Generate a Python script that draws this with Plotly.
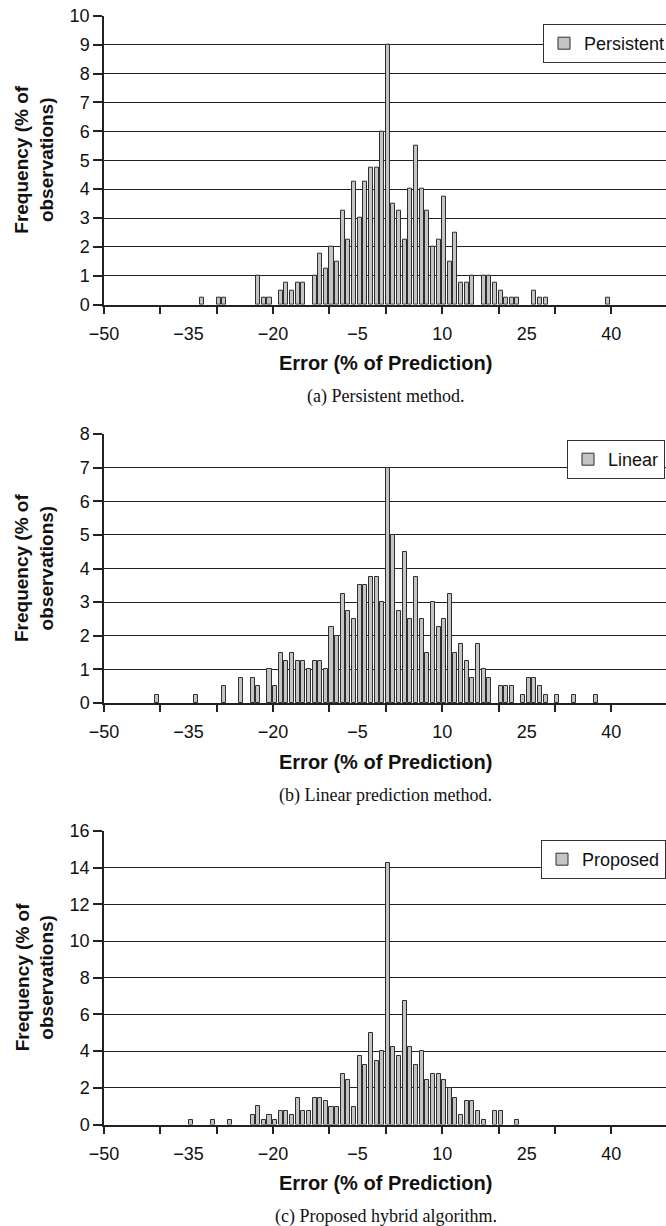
import plotly.graph_objects as go

# ---------------- data (error bin in %, frequency in % of observations) -------------
persistent_bins = [-33, -30, -29, -23, -22, -21, -19, -18, -17, -16, -15, -13, -12, -11, -10,
                   -9, -8, -7, -6, -5, -4, -3, -2, -1, 0, 1, 2, 3, 4, 5, 6, 7, 8, 9, 10,
                   11, 12, 13, 14, 15, 17, 18, 19, 20, 21, 22, 23, 26, 27, 28, 39]
persistent_vals = [0.25, 0.25, 0.25, 1.0, 0.25, 0.25, 0.5, 0.75, 0.5, 0.75, 0.75, 1.0, 1.75, 1.25, 2.0,
                   1.5, 3.25, 2.25, 4.25, 3.0, 4.25, 4.75, 4.75, 6.0, 9.0, 3.5, 3.25, 2.25, 4.0, 5.5, 4.0, 3.25, 2.0, 2.25, 3.75,
                   1.5, 2.5, 0.75, 0.75, 1.0, 1.0, 1.0, 0.75, 0.5, 0.25, 0.25, 0.25, 0.5, 0.25, 0.25, 0.25]

linear_bins = [-41, -34, -29, -26, -24, -23, -21, -20, -19, -18, -17, -16, -15, -14, -13, -12, -11,
               -10, -9, -8, -7, -6, -5, -4, -3, -2, -1, 0, 1, 2, 3, 4, 5, 6, 7, 8, 9,
               10, 11, 12, 13, 14, 15, 16, 17, 18, 20, 21, 22, 24, 25, 26, 27, 28, 30, 33, 37]
linear_vals = [0.25, 0.25, 0.5, 0.75, 0.75, 0.5, 1.0, 0.5, 1.5, 1.25, 1.5, 1.25, 1.25, 1.0, 1.25, 1.25, 1.0,
               2.25, 2.0, 3.25, 2.75, 2.5, 3.5, 3.5, 3.75, 3.75, 3.0, 7.0, 5.0, 2.75, 4.5, 2.5, 3.75, 2.5, 1.5, 3.0, 2.25,
               2.5, 3.25, 1.5, 1.75, 1.25, 0.75, 1.75, 1.0, 0.75, 0.5, 0.5, 0.5, 0.25, 0.75, 0.75, 0.5, 0.25, 0.25, 0.25, 0.25]

proposed_bins = [-35, -31, -28, -24, -23, -22, -21, -20, -19, -18, -17, -16, -15, -14, -13, -12, -11,
                 -10, -9, -8, -7, -6, -5, -4, -3, -2, -1, 0, 1, 2, 3, 4, 5, 6, 7, 8, 9,
                 10, 11, 12, 13, 14, 15, 16, 17, 19, 20, 23]
proposed_vals = [0.25, 0.25, 0.25, 0.5, 1.0, 0.25, 0.5, 0.25, 0.75, 0.75, 0.5, 1.43, 0.75, 0.75, 1.43, 1.42, 1.27,
                 0.96, 0.96, 2.73, 2.45, 0.96, 3.74, 3.27, 5.0, 3.47, 4.0, 14.27, 4.2, 3.74, 6.73, 4.2, 3.27, 4.0, 2.45, 2.73, 2.73,
                 2.45, 2.0, 1.42, 0.5, 1.27, 1.27, 0.75, 0.25, 0.75, 0.75, 0.25]

x_label_vals = [-50, -35, -20, -5, 10, 25, 40]
x_label_text = ["\u221250", "\u221235", "\u221220", "\u22125", "10", "25", "40"]
x_tick_marks = [-50, -40, -30, -20, -10, 0, 10, 20, 30, 40]

panels = [
    dict(name="Persistent", bins=persistent_bins, vals=persistent_vals, ymax=10, dtick=1,
         caption="(a) Persistent method.", legend_left=543, legend_top=24),
    dict(name="Linear", bins=linear_bins, vals=linear_vals, ymax=8, dtick=1,
         caption="(b) Linear prediction method.", legend_left=567, legend_top=440),
    dict(name="Proposed", bins=proposed_bins, vals=proposed_vals, ymax=16, dtick=2,
         caption="(c) Proposed hybrid algorithm.", legend_left=541, legend_top=840),
]

# ---------------- layout geometry (pixels) -------------
W, H = 666, 1226
plot_left = 104
px_per_unit = 5.636
x_range = [-50, -50 + (W - plot_left) / px_per_unit]
plot_tops = [15.7, 434, 831]
plot_bottoms = [304.7, 703, 1124.5]

FONT = "Arial, Liberation Sans, Helvetica, sans-serif"
SERIF = "Times New Roman, Liberation Serif, serif"
DARK = "#222222"

fig = go.Figure()
layout = dict(
    width=W, height=H, margin=dict(l=0, r=0, t=0, b=0, autoexpand=False),
    paper_bgcolor="white", plot_bgcolor="white", bargap=0, barmode="overlay",
    font=dict(family=FONT, size=18, color="#111111"),
    annotations=[],
)

for i, p in enumerate(panels):
    n = i + 1
    xa = "x" if n == 1 else f"x{n}"
    ya = "y" if n == 1 else f"y{n}"
    xt = f"x{n + 3}"
    leg = "legend" if n == 1 else f"legend{n}"
    y0 = 1 - plot_bottoms[i] / H
    y1 = 1 - plot_tops[i] / H

    fig.add_trace(go.Bar(
        x=p["bins"], y=p["vals"], name=p["name"], xaxis=xa, yaxis=ya,
        width=0.72, offset=0.0,
        marker=dict(color="#c4c4c4", line=dict(color="#2e2e2e", width=1)),
        legend=leg, showlegend=True,
    ))
    # invisible helper trace to carry the tick-mark axis
    fig.add_trace(go.Scatter(x=[x_range[0]], y=[0], xaxis=xt, yaxis=ya, mode="markers",
                             marker=dict(opacity=0), showlegend=False, hoverinfo="skip"))

    layout[("xaxis" if n == 1 else f"xaxis{n}")] = dict(
        domain=[plot_left / W, 1], range=x_range, anchor=ya,
        tickmode="array", tickvals=x_label_vals, ticktext=x_label_text,
        ticks="", showgrid=False, zeroline=False,
        showline=True, linecolor=DARK, linewidth=1.5,
        tickfont=dict(family=FONT, size=18, color="#111111"), ticklabelstandoff=12,
    )
    layout[f"xaxis{n + 3}"] = dict(
        domain=[plot_left / W, 1], range=x_range, anchor=ya, overlaying=xa,
        tickmode="array", tickvals=x_tick_marks, ticks="outside", ticklen=8,
        tickwidth=1.5, tickcolor=DARK, showticklabels=False, showgrid=False,
        zeroline=False, showline=False,
    )
    layout[("yaxis" if n == 1 else f"yaxis{n}")] = dict(
        domain=[y0, y1], range=[0, p["ymax"]], anchor=xa,
        tickmode="linear", tick0=0, dtick=p["dtick"],
        ticks="outside", ticklen=9, tickwidth=1.5, tickcolor=DARK,
        showgrid=True, gridcolor=DARK, gridwidth=1.2, zeroline=False,
        showline=True, linecolor=DARK, linewidth=1.5,
        tickfont=dict(family=FONT, size=18, color="#111111"),
    )
    layout[leg] = dict(
        x=p["legend_left"] / W, xanchor="left", y=1 - p["legend_top"] / H, yanchor="top",
        bgcolor="white", bordercolor="#333333", borderwidth=1,
        font=dict(family=FONT, size=18, color="#111111"), itemwidth=30,
        tracegroupgap=0,
    )
    cx = (plot_left + plot_left + 100 * px_per_unit) / 2 / W
    layout["annotations"] += [
        dict(text="<b>Frequency (% of<br>observations)</b>", textangle=-90,
             xref="paper", yref="paper", x=34.5 / W,
             y=1 - (plot_tops[i] + plot_bottoms[i]) / 2 / H,
             xanchor="center", yanchor="middle", showarrow=False,
             font=dict(family=FONT, size=19, color="#111111")),
        dict(text="<b>Error (% of Prediction)</b>", xref="paper", yref="paper",
             x=cx, y=1 - (plot_bottoms[i] + 58.6) / H, xanchor="center", yanchor="middle",
             showarrow=False, font=dict(family=FONT, size=20, color="#111111")),
        dict(text=p["caption"], xref="paper", yref="paper",
             x=cx, y=1 - (plot_bottoms[i] + 92) / H, xanchor="center", yanchor="middle",
             showarrow=False, font=dict(family=SERIF, size=18, color="#111111")),
    ]

fig.update_layout(**layout)
fig.write_html("out.html")
